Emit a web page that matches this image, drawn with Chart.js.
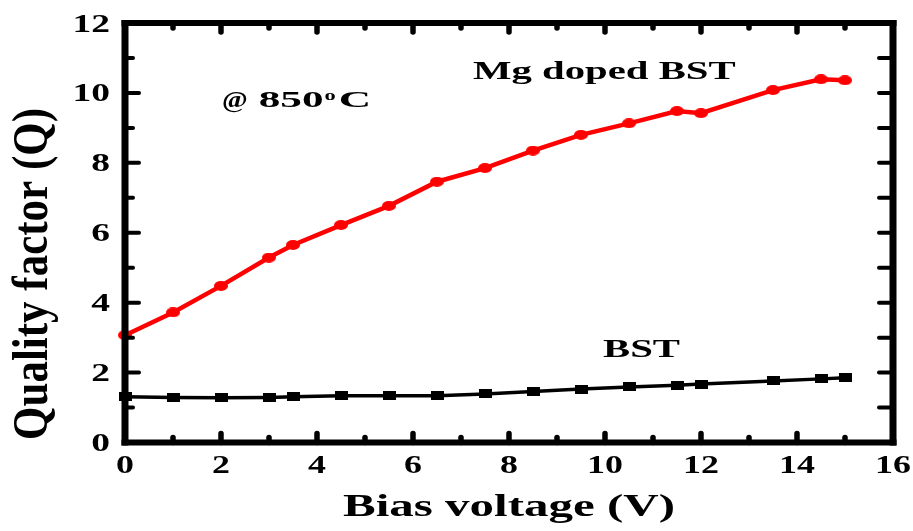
<!DOCTYPE html>
<html>
  <head>
    <title>Quality factor vs bias voltage</title>
    <meta charset="utf-8" />
    <script src="https://cdn.jsdelivr.net/npm/chart.js@4.4.0/dist/chart.umd.min.js"></script>
    <style>
      html, body { margin: 0; padding: 0; background: #fff; }
      #wrap { width: 913px; height: 531px; }
    </style>
  </head>
  <body>
    <div id="wrap"><canvas id="chart"></canvas></div>
    <script>
      "use strict";

      const voltage = [0, 1, 2, 3, 3.5, 4.5, 5.5, 6.5, 7.5, 8.5, 9.5, 10.5, 11.5, 12, 13.5, 14.5, 15];
      const qMgDoped = [3.07, 3.72, 4.48, 5.29, 5.65, 6.22, 6.77, 7.46, 7.85, 8.35, 8.8, 9.13, 9.48, 9.42, 10.08, 10.39, 10.36];
      const qBst = [1.31, 1.29, 1.28, 1.29, 1.31, 1.34, 1.34, 1.34, 1.39, 1.46, 1.53, 1.59, 1.64, 1.67, 1.76, 1.82, 1.85];

      const xTicks = [0, 2, 4, 6, 8, 10, 12, 14, 16];
      const yTicks = [0, 2, 4, 6, 8, 10, 12];
      const xTitle = "Bias voltage (V)";
      const yTitle = "Quality factor (Q)";

      const SERIF = '"Liberation Serif", "Times New Roman", serif';

      // elliptical / flat-square markers, the figure is a bit wide
      const redDot = makeMarker(14, 10, "#ff0000", "ellipse");
      const blackSquare = makeMarker(13, 9, "#000000", "rect");

      const frame = {
        id: "frame",
        afterDraw(chart) {
          const { ctx, chartArea: a, scales } = chart;
          const x = scales.x;
          const y = scales.y;
          ctx.save();
          ctx.fillStyle = "#000";
          ctx.strokeStyle = "#000";

          // box: sides a little heavier than top/bottom
          ctx.fillRect(a.left - 3.5, a.top - 3, 7, a.bottom - a.top + 6);
          ctx.fillRect(a.right - 3.5, a.top - 3, 7, a.bottom - a.top + 6);
          ctx.fillRect(a.left - 3.5, a.top - 3, a.right - a.left + 7, 6);
          ctx.fillRect(a.left - 3.5, a.bottom - 3, a.right - a.left + 7, 6);

          // inward ticks, minor ones halfway between labels
          ctx.lineCap = "round";
          xTicks.forEach((v, i) => {
            const px = x.getPixelForValue(v);
            tick(ctx, px, a.bottom, px, a.bottom - 9, 5.5);
            tick(ctx, px, a.top, px, a.top + 9, 5.5);
            if (i < xTicks.length - 1) {
              const mx = x.getPixelForValue((v + xTicks[i + 1]) / 2);
              tick(ctx, mx, a.bottom, mx, a.bottom - 5, 5.5);
              tick(ctx, mx, a.top, mx, a.top + 5, 5.5);
            }
          });
          yTicks.forEach((v, i) => {
            const py = y.getPixelForValue(v);
            tick(ctx, a.left, py, a.left + 14, py, 4);
            tick(ctx, a.right, py, a.right - 14, py, 4);
            if (i < yTicks.length - 1) {
              const my = y.getPixelForValue((v + yTicks[i + 1]) / 2);
              tick(ctx, a.left, my, a.left + 8, my, 4);
              tick(ctx, a.right, my, a.right - 14, my, 4);
            }
          });

          // tick labels
          xTicks.forEach(v => {
            text(ctx, String(v), x.getPixelForValue(v), 473, 26, 1.38, "center");
          });
          yTicks.forEach(v => {
            text(ctx, String(v), a.left - 15, y.getPixelForValue(v) + 8.5, 25, 1.5, "right");
          });

          // axis titles
          text(ctx, xTitle, (a.left + a.right) / 2, 515.5, 31, 1.58, "center");
          ctx.save();
          ctx.translate(47, 274);
          ctx.rotate(-Math.PI / 2);
          ctx.scale(1, 1.19);
          ctx.font = "bold 43px " + SERIF;
          ctx.textAlign = "center";
          ctx.fillText(yTitle, 0, 0);
          ctx.restore();

          // annotations
          let end = text(ctx, "@", 222, 107, 23, 1.2, "left");
          end = text(ctx, "850", end + 11, 107, 23, 1.88, "left");
          end = text(ctx, "o", end + 1, 99.5, 15, 1.5, "left");
          text(ctx, "C", end + 3, 107, 23, 1.95, "left");
          text(ctx, "Mg doped BST", 473, 79, 25, 1.63, "left");
          text(ctx, "BST", 603, 357, 25, 1.63, "left");

          ctx.restore();
        }
      };

      new Chart(document.getElementById("chart"), {
        type: "line",
        data: {
          labels: voltage,
          datasets: [
            {
              label: "BST",
              data: voltage.map((v, i) => ({ x: v, y: qBst[i] })),
              borderColor: "#000000",
              backgroundColor: "#000000",
              borderWidth: 3.5,
              pointStyle: blackSquare,
              pointRadius: 6,
              tension: 0,
              clip: false
            },
            {
              label: "Mg doped BST",
              data: voltage.map((v, i) => ({ x: v, y: qMgDoped[i] })),
              borderColor: "#ff0000",
              backgroundColor: "#ff0000",
              borderWidth: 4.5,
              pointStyle: redDot,
              pointRadius: 6,
              tension: 0,
              clip: false
            }
          ]
        },
        options: {
          responsive: true,
          maintainAspectRatio: false,
          animation: false,
          layout: { padding: { left: 125, right: 20, top: 23, bottom: 88.5 } },
          plugins: { legend: { display: false }, tooltip: { enabled: false } },
          scales: {
            x: {
              type: "linear",
              min: xTicks[0],
              max: xTicks[xTicks.length - 1],
              ticks: { display: false },
              grid: { display: false, drawTicks: false },
              border: { display: false }
            },
            y: {
              type: "linear",
              min: yTicks[0],
              max: yTicks[yTicks.length - 1],
              ticks: { display: false },
              grid: { display: false, drawTicks: false },
              border: { display: false }
            }
          }
        },
        plugins: [frame]
      });

      function tick(ctx, x0, y0, x1, y1, width) {
        ctx.lineWidth = width;
        ctx.beginPath();
        ctx.moveTo(x0, y0);
        ctx.lineTo(x1, y1);
        ctx.stroke();
      }

      // bold serif text, stretched sideways; returns the right edge for left-aligned text
      function text(ctx, str, x, y, size, stretch, align) {
        ctx.save();
        ctx.font = "bold " + size + "px " + SERIF;
        ctx.textAlign = align;
        ctx.textBaseline = "alphabetic";
        ctx.translate(x, y);
        ctx.scale(stretch, 1);
        ctx.fillText(str, 0, 0);
        const w = ctx.measureText(str).width * stretch;
        ctx.restore();
        return x + w;
      }

      function makeMarker(w, h, color, shape) {
        const c = document.createElement("canvas");
        c.width = w;
        c.height = h;
        const g = c.getContext("2d");
        g.fillStyle = color;
        if (shape === "ellipse") {
          g.beginPath();
          g.ellipse(w / 2, h / 2, w / 2, h / 2, 0, 0, Math.PI * 2);
          g.fill();
        } else {
          g.fillRect(0, 0, w, h);
        }
        return c;
      }
    </script>
  </body>
</html>
